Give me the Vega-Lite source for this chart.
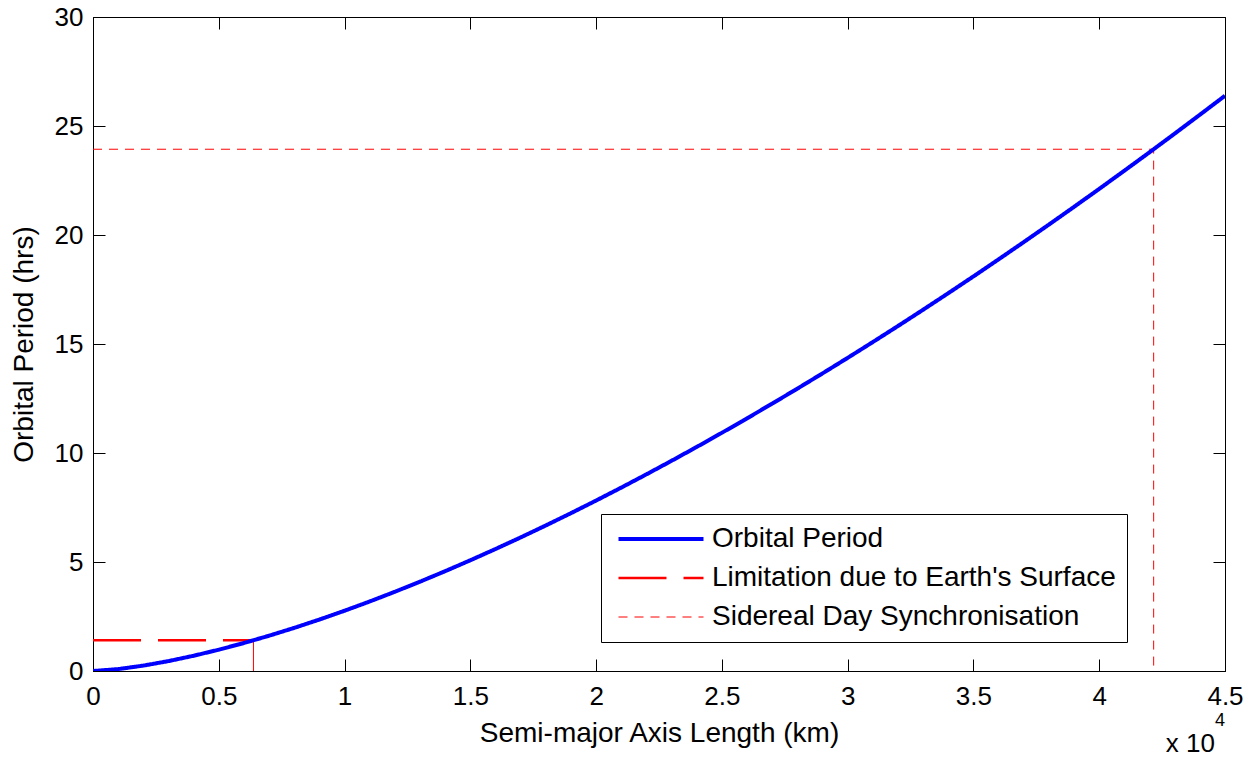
{
  "$schema": "https://vega.github.io/schema/vega-lite/v6.json",
  "width": 1132,
  "height": 654,
  "autosize": {"type": "none"},
  "padding": {"left": 93, "top": 17, "right": 32, "bottom": 87},
  "background": "white",
  "config": {
    "font": "Liberation Sans",
    "view": {"stroke": "black", "strokeWidth": 1},
    "axis": {
      "grid": false,
      "domainColor": "black",
      "domainWidth": 1,
      "tickColor": "black",
      "tickSize": -12,
      "tickWidth": 1,
      "labelColor": "black",
      "labelFontSize": 26,
      "titleFontSize": 28,
      "titleFontWeight": "normal",
      "titleColor": "black"
    },
    "legend": {
      "labelFontSize": 28,
      "labelColor": "black",
      "labelFont": "Liberation Sans",
      "labelLimit": 0,
      "title": null,
      "orient": "none",
      "legendX": 508,
      "legendY": 497,
      "symbolType": "M-5,0H5",
      "symbolSize": 289,
      "symbolOffset": 35,
      "labelOffset": 37,
      "padding": 11,
      "rowPadding": 11,
      "strokeColor": "black",
      "fillColor": "white",
      "cornerRadius": 0
    }
  },
  "datasets": {
    "curve": [
      {"a": 0, "T": 0},
      {"a": 1000, "T": 0.087},
      {"a": 2000, "T": 0.247},
      {"a": 3000, "T": 0.454},
      {"a": 4000, "T": 0.699},
      {"a": 5000, "T": 0.977},
      {"a": 6000, "T": 1.285},
      {"a": 7000, "T": 1.619},
      {"a": 8000, "T": 1.978},
      {"a": 9000, "T": 2.360},
      {"a": 10000, "T": 2.764},
      {"a": 11000, "T": 3.189},
      {"a": 12000, "T": 3.634},
      {"a": 13000, "T": 4.098},
      {"a": 14000, "T": 4.579},
      {"a": 15000, "T": 5.079},
      {"a": 16000, "T": 5.595},
      {"a": 17000, "T": 6.127},
      {"a": 18000, "T": 6.676},
      {"a": 19000, "T": 7.240},
      {"a": 20000, "T": 7.819},
      {"a": 21000, "T": 8.413},
      {"a": 22000, "T": 9.021},
      {"a": 23000, "T": 9.643},
      {"a": 24000, "T": 10.278},
      {"a": 25000, "T": 10.927},
      {"a": 26000, "T": 11.590},
      {"a": 27000, "T": 12.265},
      {"a": 28000, "T": 12.952},
      {"a": 29000, "T": 13.652},
      {"a": 30000, "T": 14.364},
      {"a": 31000, "T": 15.089},
      {"a": 32000, "T": 15.825},
      {"a": 33000, "T": 16.572},
      {"a": 34000, "T": 17.331},
      {"a": 35000, "T": 18.101},
      {"a": 36000, "T": 18.883},
      {"a": 37000, "T": 19.675},
      {"a": 38000, "T": 20.478},
      {"a": 39000, "T": 21.291},
      {"a": 40000, "T": 22.116},
      {"a": 41000, "T": 22.950},
      {"a": 42000, "T": 23.795},
      {"a": 43000, "T": 24.650},
      {"a": 44000, "T": 25.515},
      {"a": 45000, "T": 26.389}
    ],
    "refs": [
      {"a": 0, "T": 1.408, "series": "Limitation due to Earth's Surface", "seg": "lim"},
      {"a": 6378, "T": 1.408, "series": "Limitation due to Earth's Surface", "seg": "lim"},
      {"a": 0, "T": 23.934, "series": "Sidereal Day Synchronisation", "seg": "sid"},
      {"a": 42164, "T": 23.934, "series": "Sidereal Day Synchronisation", "seg": "sid"},
      {"a": 42164, "T": 0, "series": "Sidereal Day Synchronisation", "seg": "sid"}
    ],
    "limv": [
      {"a": 6378, "T": 0},
      {"a": 6378, "T": 1.408}
    ]
  },
  "resolve": {"axis": {"x": "independent", "y": "independent"}},
  "layer": [
    {
      "data": {"name": "refs"},
      "mark": {"type": "line", "clip": true},
      "encoding": {
        "x": {
          "field": "a", "type": "quantitative",
          "scale": {"domain": [0, 45000], "nice": false, "zero": false},
          "axis": {
            "orient": "bottom",
            "title": "Semi-major Axis Length (km)",
            "values": [0, 5000, 10000, 15000, 20000, 25000, 30000, 35000, 40000, 45000],
            "labelExpr": "datum.value / 10000 + ''",
            "labelPadding": 24,
            "labelFlush": false,
            "labelOverlap": false,
            "titlePadding": 10
          }
        },
        "y": {
          "field": "T", "type": "quantitative",
          "scale": {"domain": [0, 30], "nice": false, "zero": false},
          "axis": {
            "orient": "left",
            "title": "Orbital Period (hrs)",
            "values": [0, 5, 10, 15, 20, 25, 30],
            "labelPadding": 22,
            "labelFlush": false,
            "labelOverlap": false,
            "titlePadding": 16
          }
        },
        "detail": {"field": "seg"},
        "color": {
          "field": "series", "type": "nominal",
          "scale": {
            "domain": ["Orbital Period", "Limitation due to Earth's Surface", "Sidereal Day Synchronisation"],
            "range": ["#0000ff", "#ff0000", "#ff0000"]
          }
        },
        "strokeDash": {
          "field": "series", "type": "nominal",
          "scale": {
            "domain": ["Orbital Period", "Limitation due to Earth's Surface", "Sidereal Day Synchronisation"],
            "range": [[1, 0], [48, 17], [9, 7]]
          }
        },
        "strokeWidth": {
          "field": "series", "type": "nominal",
          "scale": {
            "domain": ["Orbital Period", "Limitation due to Earth's Surface", "Sidereal Day Synchronisation"],
            "range": [4, 1, 1.5]
          }
        }
      }
    },
    {
      "data": {"name": "limv"},
      "mark": {"type": "line", "color": "#ff0000", "strokeWidth": 1},
      "encoding": {
        "x": {"field": "a", "type": "quantitative", "scale": {"domain": [0, 45000], "nice": false, "zero": false}, "axis": null},
        "y": {"field": "T", "type": "quantitative", "scale": {"domain": [0, 30], "nice": false, "zero": false}, "axis": null}
      }
    },
    {
      "data": {"name": "curve"},
      "mark": {"type": "line", "clip": true},
      "encoding": {
        "x": {
          "field": "a", "type": "quantitative",
          "scale": {"domain": [0, 45000], "nice": false, "zero": false},
          "axis": {
            "orient": "top",
            "title": null,
            "labels": false,
            "domain": false,
            "values": [0, 5000, 10000, 15000, 20000, 25000, 30000, 35000, 40000, 45000]
          }
        },
        "y": {
          "field": "T", "type": "quantitative",
          "scale": {"domain": [0, 30], "nice": false, "zero": false},
          "axis": {
            "orient": "right",
            "title": null,
            "labels": false,
            "domain": false,
            "values": [0, 5, 10, 15, 20, 25, 30]
          }
        },
        "color": {"datum": "Orbital Period", "type": "nominal"},
        "strokeDash": {"datum": "Orbital Period", "type": "nominal"},
        "strokeWidth": {"datum": "Orbital Period", "type": "nominal"}
      }
    },
    {
      "data": {"values": [{}]},
      "mark": {"type": "text", "text": "x 10", "align": "right", "baseline": "alphabetic", "fontSize": 26, "color": "black", "dx": -10, "dy": 81},
      "encoding": {
        "x": {"datum": 45000, "type": "quantitative", "scale": {"domain": [0, 45000], "nice": false, "zero": false}, "axis": null},
        "y": {"datum": 0, "type": "quantitative", "scale": {"domain": [0, 30], "nice": false, "zero": false}, "axis": null}
      }
    },
    {
      "data": {"values": [{}]},
      "mark": {"type": "text", "text": "4", "align": "right", "baseline": "alphabetic", "fontSize": 18, "color": "black", "dx": 0, "dy": 55},
      "encoding": {
        "x": {"datum": 45000, "type": "quantitative", "scale": {"domain": [0, 45000], "nice": false, "zero": false}, "axis": null},
        "y": {"datum": 0, "type": "quantitative", "scale": {"domain": [0, 30], "nice": false, "zero": false}, "axis": null}
      }
    }
  ]
}
